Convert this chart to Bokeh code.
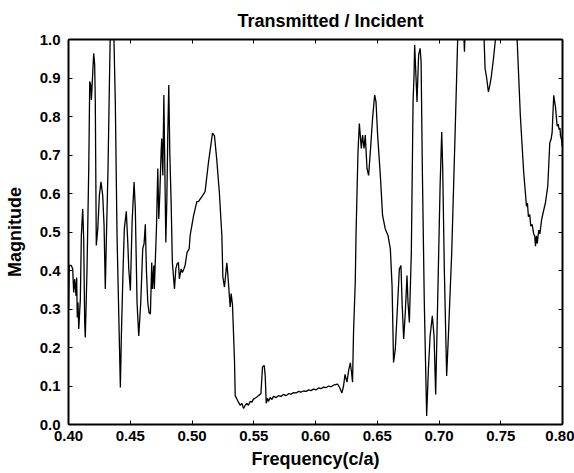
from bokeh.plotting import figure
from bokeh.models import (LinearAxis, Range1d, FixedTicker, NumeralTickFormatter,
                          CustomLabelingPolicy)
from bokeh.embed import file_html
from bokeh.resources import INLINE

title_text = "Transmitted / Incident"
x_label = "Frequency(c/a)"
y_label = "Magnitude"

x_ticks = [0.40, 0.45, 0.50, 0.55, 0.60, 0.65, 0.70, 0.75, 0.80]
y_ticks = [0.0, 0.1, 0.2, 0.3, 0.4, 0.5, 0.6, 0.7, 0.8, 0.9, 1.0]

freq = [
    0.4000, 0.4006, 0.4023, 0.4034, 0.4042, 0.4050, 0.4061, 0.4066, 0.4071, 0.4077,
    0.4083, 0.4096, 0.4104, 0.4115, 0.4123, 0.4131, 0.4136, 0.4150, 0.4164, 0.4172,
    0.4180, 0.4185, 0.4190, 0.4204, 0.4212, 0.4217, 0.4225, 0.4237, 0.4250, 0.4263,
    0.4277, 0.4288, 0.4298, 0.4306, 0.4320, 0.4331, 0.4339, 0.4366, 0.4379, 0.4393,
    0.4420, 0.4428, 0.4442, 0.4452, 0.4468, 0.4480, 0.4488, 0.4501, 0.4515, 0.4531,
    0.4541, 0.4555, 0.4569, 0.4585, 0.4601, 0.4612, 0.4622, 0.4631, 0.4642, 0.4652,
    0.4663, 0.4674, 0.4679, 0.4691, 0.4695, 0.4712, 0.4723, 0.4731, 0.4739, 0.4750,
    0.4755, 0.4764, 0.4772, 0.4780, 0.4788, 0.4796, 0.4804, 0.4812, 0.4820, 0.4831,
    0.4841, 0.4858, 0.4869, 0.4879, 0.4890, 0.4898, 0.4912, 0.4922, 0.4934, 0.4944,
    0.4960, 0.4977, 0.4985, 0.5012, 0.5039, 0.5052, 0.5080, 0.5106, 0.5133, 0.5166,
    0.5182, 0.5201, 0.5222, 0.5242, 0.5250, 0.5263, 0.5282, 0.5290, 0.5309, 0.5317,
    0.5328, 0.5344, 0.5350, 0.5376, 0.5390, 0.5404, 0.5417, 0.5431, 0.5444, 0.5457,
    0.5471, 0.5485, 0.5498, 0.5520, 0.5538, 0.5558, 0.5571, 0.5585, 0.5593, 0.5601,
    0.5611, 0.5619, 0.5633, 0.5647, 0.5660, 0.5682, 0.5700, 0.5720, 0.5741, 0.5763,
    0.5781, 0.5803, 0.5822, 0.5844, 0.5863, 0.5882, 0.5903, 0.5925, 0.5944, 0.5963,
    0.5984, 0.6006, 0.6025, 0.6044, 0.6065, 0.6087, 0.6106, 0.6125, 0.6146, 0.6168,
    0.6179, 0.6195, 0.6214, 0.6227, 0.6239, 0.6247, 0.6255, 0.6268, 0.6282, 0.6292,
    0.6300, 0.6308, 0.6322, 0.6328, 0.6344, 0.6355, 0.6371, 0.6381, 0.6393, 0.6403,
    0.6417, 0.6430, 0.6444, 0.6462, 0.6479, 0.6490, 0.6503, 0.6525, 0.6543, 0.6565,
    0.6587, 0.6606, 0.6620, 0.6632, 0.6646, 0.6660, 0.6679, 0.6692, 0.6701, 0.6714,
    0.6727, 0.6741, 0.6749, 0.6760, 0.6776, 0.6790, 0.6798, 0.6803, 0.6814, 0.6822,
    0.6835, 0.6847, 0.6855, 0.6865, 0.6881, 0.6900, 0.6914, 0.6928, 0.6946, 0.6960,
    0.6973, 0.6989, 0.7009, 0.7022, 0.7030, 0.7043, 0.7062, 0.7076, 0.7103, 0.7130,
    0.7151, 0.7163, 0.7197, 0.7206, 0.7214, 0.7360, 0.7373, 0.7386, 0.7400, 0.7411,
    0.7422, 0.7441, 0.7457, 0.7465, 0.7619, 0.7633, 0.7659, 0.7686, 0.7700, 0.7708,
    0.7716, 0.7724, 0.7735, 0.7743, 0.7754, 0.7767, 0.7775, 0.7781, 0.7789, 0.7795,
    0.7808, 0.7817, 0.7830, 0.7843, 0.7862, 0.7881, 0.7897, 0.7907, 0.7916, 0.7929,
    0.7943, 0.7957, 0.7965, 0.7973, 0.7980, 0.7984, 0.7992, 0.7997, 0.8000,
]

magnitude = [
    0.300, 0.413, 0.413, 0.404, 0.343, 0.378, 0.334, 0.382, 0.278, 0.317,
    0.248, 0.326, 0.491, 0.560, 0.482, 0.265, 0.226, 0.404, 0.665, 0.891,
    0.882, 0.843, 0.873, 0.964, 0.934, 0.838, 0.465, 0.508, 0.595, 0.630,
    0.595, 0.517, 0.352, 0.473, 0.665, 0.882, 1.030, 1.030, 0.838, 0.491,
    0.096, 0.230, 0.404, 0.508, 0.554, 0.473, 0.404, 0.348, 0.526, 0.630,
    0.560, 0.317, 0.230, 0.317, 0.456, 0.470, 0.520, 0.400, 0.317, 0.291,
    0.287, 0.421, 0.352, 0.413, 0.352, 0.508, 0.665, 0.534, 0.595, 0.708,
    0.743, 0.647, 0.856, 0.665, 0.473, 0.578, 0.752, 0.882, 0.708, 0.578,
    0.421, 0.352, 0.404, 0.417, 0.421, 0.378, 0.404, 0.395, 0.404, 0.413,
    0.447, 0.456, 0.491, 0.541, 0.579, 0.579, 0.592, 0.605, 0.680, 0.757,
    0.750, 0.686, 0.600, 0.489, 0.383, 0.357, 0.420, 0.390, 0.305, 0.340,
    0.310, 0.166, 0.075, 0.058, 0.050, 0.055, 0.042, 0.050, 0.055, 0.050,
    0.060, 0.058, 0.066, 0.070, 0.075, 0.080, 0.150, 0.153, 0.125, 0.055,
    0.068, 0.060, 0.070, 0.065, 0.073, 0.070, 0.075, 0.073, 0.078, 0.075,
    0.080, 0.079, 0.083, 0.082, 0.086, 0.084, 0.087, 0.086, 0.090, 0.088,
    0.092, 0.090, 0.095, 0.093, 0.097, 0.096, 0.100, 0.098, 0.102, 0.104,
    0.105, 0.096, 0.082, 0.100, 0.130, 0.120, 0.110, 0.140, 0.160, 0.135,
    0.110, 0.240, 0.370, 0.490, 0.708, 0.782, 0.717, 0.752, 0.717, 0.752,
    0.665, 0.647, 0.708, 0.795, 0.856, 0.838, 0.752, 0.647, 0.543, 0.508,
    0.491, 0.456, 0.360, 0.161, 0.195, 0.282, 0.404, 0.413, 0.317, 0.222,
    0.291, 0.387, 0.317, 0.265, 0.447, 0.838, 0.908, 0.986, 0.900, 0.838,
    0.960, 0.977, 0.943, 0.665, 0.317, 0.022, 0.143, 0.230, 0.282, 0.230,
    0.078, 0.317, 0.621, 0.760, 0.665, 0.404, 0.126, 0.230, 0.447, 0.752,
    0.999, 1.050, 1.050, 0.968, 1.050, 1.050, 0.925, 0.900, 0.864, 0.880,
    0.900, 0.950, 1.000, 1.050, 1.050, 0.997, 0.800, 0.654, 0.600, 0.567,
    0.575, 0.540, 0.545, 0.515, 0.520, 0.495, 0.490, 0.463, 0.490, 0.470,
    0.505, 0.495, 0.530, 0.550, 0.576, 0.620, 0.732, 0.740, 0.758, 0.855,
    0.825, 0.775, 0.780, 0.766, 0.770, 0.749, 0.740, 0.722, 0.760,
]

FONT = "Liberation Sans"

p = figure(width=574, height=473,
           x_range=Range1d(0.40, 0.80), y_range=Range1d(0.0, 1.0),
           output_backend="svg", toolbar_location=None,
           min_border_left=68, min_border_right=12,
           min_border_top=39, min_border_bottom=49)

p.xgrid.visible = False
p.ygrid.visible = False
p.outline_line_color = None
p.background_fill_color = "white"
p.border_fill_color = "white"

p.line(freq, magnitude, line_color="black", line_width=1.3)

no_labels = CustomLabelingPolicy(
    code="for (let i = 0; i < indices.size; i++) { indices.unset(i) } return indices")

def style_axis(ax, labels=True):
    ax.axis_line_color = "black"
    ax.axis_line_width = 2
    ax.major_tick_in = 4
    ax.major_tick_out = 0
    ax.major_tick_line_color = "black"
    ax.major_tick_line_width = 1
    ax.minor_tick_line_color = None
    if labels:
        ax.major_label_text_font = FONT
        ax.major_label_text_font_style = "bold"
        ax.major_label_text_font_size = "15px"
        ax.major_label_text_color = "black"
        ax.axis_label_text_font = FONT
        ax.axis_label_text_font_style = "bold"
        ax.axis_label_text_font_size = "18px"
        ax.axis_label_text_color = "black"
    else:
        ax.major_label_policy = no_labels
        ax.major_label_text_font_size = "2px"
        ax.major_label_standoff = 0

xa = p.xaxis[0]
xa.ticker = FixedTicker(ticks=x_ticks)
xa.formatter = NumeralTickFormatter(format="0.00")
xa.axis_label = x_label
style_axis(xa)
xa.major_label_standoff = 6
xa.axis_label_standoff = 5

ya = p.yaxis[0]
ya.ticker = FixedTicker(ticks=y_ticks)
ya.formatter = NumeralTickFormatter(format="0.0")
ya.axis_label = y_label
style_axis(ya)
ya.major_label_standoff = 8
ya.axis_label_standoff = 12

top = LinearAxis(ticker=FixedTicker(ticks=x_ticks))
style_axis(top, labels=False)
p.add_layout(top, "above")
right = LinearAxis(ticker=FixedTicker(ticks=y_ticks))
style_axis(right, labels=False)
p.add_layout(right, "right")

p.title.text = title_text
p.title.text_font = FONT
p.title.text_font_style = "bold"
p.title.text_font_size = "18px"
p.title.text_color = "black"
p.title.align = "left"
p.title.offset = 169

open("out.html", "w").write(file_html(p, INLINE))
